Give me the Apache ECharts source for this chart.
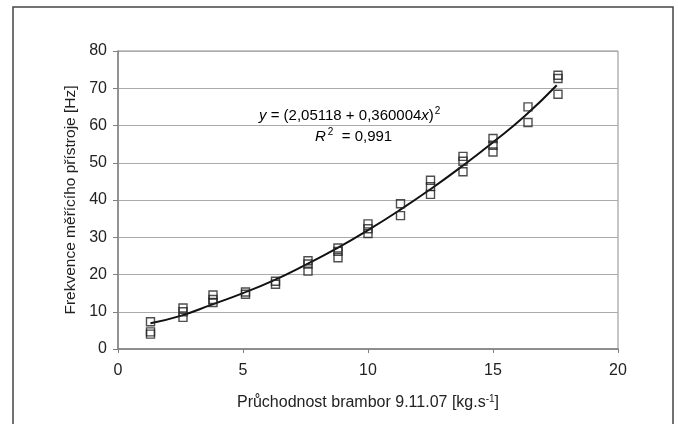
<!DOCTYPE html>
<html>
<head>
<meta charset="utf-8">
<script src="https://cdn.jsdelivr.net/npm/echarts@6/dist/echarts.min.js"></script>
<style>
  html, body { margin: 0; padding: 0; background: #fff; }
  #chart { width: 678px; height: 424px; }
</style>
</head>
<body>
<div id="chart"></div>
<script>
// naměřené body (průchodnost, frekvence)
const measX = [1.3, 1.3, 1.3, 2.6, 2.6, 2.6, 3.8, 3.8, 3.8, 5.1, 5.1, 6.3, 6.3,
    7.6, 7.6, 7.6, 8.8, 8.8, 8.8, 10.0, 10.0, 10.0, 11.3, 11.3, 12.5, 12.5, 12.5,
    13.8, 13.8, 13.8, 15.0, 15.0, 15.0, 16.4, 16.4, 17.6, 17.6, 17.6];
const measY = [7.3, 4.6, 4.0, 11.0, 10.0, 8.5, 14.5, 13.3, 12.5, 15.3, 14.7, 18.2, 17.4,
    23.7, 22.8, 20.9, 27.1, 26.2, 24.5, 33.6, 32.3, 31.0, 39.0, 35.8, 45.3, 43.6, 41.5,
    51.7, 50.4, 47.6, 56.5, 54.7, 52.9, 65.0, 60.8, 73.5, 72.6, 68.4];

// body odečtené z proložené křivky
const fitX = [1.3, 2.5, 3.75, 5, 6.25, 7.5, 8.75, 10, 11.25, 12.5, 13.75, 15, 16.25, 17.55];
const fitY = [6.9, 8.9, 11.9, 15.0, 18.5, 22.6, 27.0, 31.9, 37.2, 42.9, 49.0, 55.5, 62.4, 70.8];

const xTicks = [0, 5, 10, 15, 20];
const yTicks = [0, 10, 20, 30, 40, 50, 60, 70, 80];

const font = 'Liberation Sans, Arial, sans-serif';
const textColor = '#222';

const chart = echarts.init(document.getElementById('chart'), null, {renderer: 'canvas'});

const option = {
    animation: false,
    backgroundColor: '#fff',
    grid: {
        left: 118, top: 51, right: 60, bottom: 75,
        show: true,
        borderColor: '#8c8c8c',
        borderWidth: 1
    },
    xAxis: {
        type: 'value',
        min: xTicks[0],
        max: xTicks[xTicks.length - 1],
        interval: 5,
        name: '{a|Průchodnost brambor 9.11.07 [kg.s}{s|-1}{a|]}',
        nameLocation: 'middle',
        nameGap: 45,
        nameTextStyle: {
            rich: {
                a: {fontFamily: font, fontSize: 16, color: textColor},
                s: {fontFamily: font, fontSize: 10, color: textColor, verticalAlign: 'top', padding: [0, 0, 8, 0]}
            }
        },
        axisLine: {lineStyle: {color: '#808080', width: 1.5}},
        axisTick: {show: true, length: 4, lineStyle: {color: '#808080'}},
        axisLabel: {margin: 14, fontFamily: font, fontSize: 16, color: textColor},
        splitLine: {show: false}
    },
    yAxis: {
        type: 'value',
        min: yTicks[0],
        max: yTicks[yTicks.length - 1],
        interval: 10,
        name: 'Frekvence měřícího přístroje [Hz]',
        nameLocation: 'middle',
        nameGap: 34,
        nameTextStyle: {fontFamily: font, fontSize: 15.5, color: textColor},
        axisLine: {show: true, lineStyle: {color: '#808080', width: 1.5}},
        axisTick: {show: true, length: 5, lineStyle: {color: '#808080'}},
        axisLabel: {margin: 11, fontFamily: font, fontSize: 16, color: textColor},
        splitLine: {show: true, lineStyle: {color: '#ababab', width: 1}}
    },
    graphic: [
        {
            type: 'rect',
            shape: {x: 13, y: 7, width: 660, height: 430},
            style: {fill: 'none', stroke: '#444', lineWidth: 1.5},
            silent: true
        },
        {
            type: 'text',
            left: 259, top: 106,
            style: {
                text: '{i|y}{t| = (2,05118 + 0,360004}{i|x}{t|)}{s|2}',
                rich: {
                    t: {fontFamily: font, fontSize: 15, color: textColor},
                    i: {fontFamily: font, fontSize: 15, fontStyle: 'italic', color: textColor},
                    s: {fontFamily: font, fontSize: 10, color: textColor, verticalAlign: 'top', padding: [0, 0, 9, 1]}
                }
            }
        },
        {
            type: 'text',
            left: 315, top: 127,
            style: {
                text: '{i|R}{s|2}{t|  = 0,991}',
                rich: {
                    t: {fontFamily: font, fontSize: 15, color: textColor},
                    i: {fontFamily: font, fontSize: 15, fontStyle: 'italic', color: textColor},
                    s: {fontFamily: font, fontSize: 10, color: textColor, verticalAlign: 'top', padding: [0, 0, 9, 2]}
                }
            }
        }
    ],
    series: [
        {
            name: 'fit',
            type: 'line',
            data: fitX.map((x, i) => [x, fitY[i]]),
            smooth: true,
            showSymbol: false,
            lineStyle: {color: '#111', width: 2},
            z: 3
        },
        {
            name: 'data',
            type: 'scatter',
            data: measX.map((x, i) => [x, measY[i]]),
            symbol: 'rect',
            symbolSize: 8,
            itemStyle: {color: 'rgba(255,255,255,0)', borderColor: '#222', borderWidth: 1.4},
            z: 4
        }
    ]
};

chart.setOption(option);
</script>
</body>
</html>
